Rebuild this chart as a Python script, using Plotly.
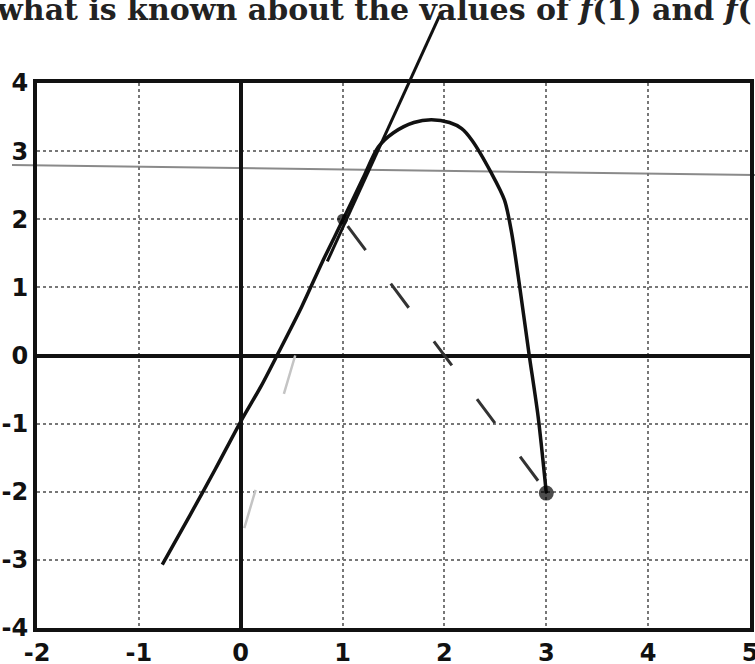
import plotly.graph_objects as go

# ---- data ----
x_ticks = [-2, -1, 0, 1, 2, 3, 4, 5]
x_tick_labels = ["-2", "-1", "0", "1", "2", "3", "4", "5"]
y_ticks = [-4, -3, -2, -1, 0, 1, 2, 3, 4]
y_tick_labels = ["-4", "-3", "-2", "-1", "0", "1", "2", "3", "4"]

curve_x = [-0.77, -0.5, -0.25, 0.0, 0.2, 0.37, 0.6, 0.8, 1.0, 1.2, 1.35, 1.5, 1.7,
           1.87, 2.05, 2.17, 2.27, 2.46, 2.59, 2.66, 2.74, 2.83, 2.92, 3.0]
curve_y = [-3.07, -2.35, -1.67, -0.97, -0.45, 0.04, 0.72, 1.37, 1.98, 2.6, 3.06, 3.27, 3.42,
           3.46, 3.42, 3.33, 3.16, 2.68, 2.28, 1.80, 1.0, 0.03, -0.9, -2.02]

tangent_x = [0.85, 1.95]
tangent_y = [1.38, 4.98]

secant_x = [1.05, 2.97]
secant_y = [1.9, -1.94]

faint_x = [0.535, 0.03]
faint_y = [0.0, -2.56]

point_x = [1.0, 3.0]
point_y = [2.0, -2.02]

title_text = "what is known about the values of <i>f</i>(1) and <i>f</i>("

# ---- figure ----
W, H = 755, 664
ML, MR, MT, MB = 37, 5, 0, 36
plot_h = H - MT - MB
plot_w = W - ML - MR
top_px = 83
ydom_top = (plot_h - top_px) / plot_h
y2_top = 4 + 8 * top_px / (plot_h - top_px)

fig = go.Figure()

fig.add_trace(go.Scatter(x=faint_x, y=faint_y, mode="lines",
                         line=dict(color="#c4c4c4", width=2.5, dash="40px,100px"),
                         hoverinfo="skip", xaxis="x", yaxis="y"))
fig.add_trace(go.Scatter(x=secant_x, y=secant_y, mode="lines",
                         line=dict(color="#333333", width=3, dash="30px,42px"),
                         hoverinfo="skip", xaxis="x", yaxis="y"))
fig.add_trace(go.Scatter(x=curve_x, y=curve_y, mode="lines",
                         line=dict(color="#111111", width=3.5, shape="spline", smoothing=0.8),
                         hoverinfo="skip", xaxis="x", yaxis="y"))
fig.add_trace(go.Scatter(x=point_x, y=point_y, mode="markers",
                         marker=dict(color="#000000", size=[11, 15], symbol="circle",
                                     line=dict(width=0)),
                         hoverinfo="skip", xaxis="x", yaxis="y"))
# tangent line extends above the plot frame -> drawn on a taller hidden subplot
fig.add_trace(go.Scatter(x=tangent_x, y=tangent_y, mode="lines",
                         line=dict(color="#111111", width=3),
                         hoverinfo="skip", xaxis="x2", yaxis="y2"))

tickfont = dict(family="DejaVu Sans", size=24, color="#111111", weight="bold")
axis_common = dict(
    showgrid=True, gridcolor="#777777", griddash="dot", gridwidth=2,
    zeroline=True, zerolinecolor="#111111", zerolinewidth=4,
    showline=True, linecolor="#111111", linewidth=4, mirror=True,
    ticks="", tickfont=tickfont, fixedrange=True, automargin=False,
    ticklabeloverflow="allow",
)

fig.update_layout(
    width=W, height=H,
    margin=dict(l=ML, r=MR, t=MT, b=MB, pad=0, autoexpand=False),
    paper_bgcolor="white", plot_bgcolor="rgba(0,0,0,0)",
    showlegend=False,
    xaxis=dict(range=[-2, 5], domain=[0, 1], anchor="y",
               tickvals=x_ticks, ticktext=x_tick_labels, ticklabelstandoff=0, **axis_common),
    yaxis=dict(range=[-4, 4], domain=[0, ydom_top], anchor="x",
               tickvals=y_ticks, ticktext=y_tick_labels, ticklabelstandoff=0, **axis_common),
    xaxis2=dict(range=[-2, 5], domain=[0, 1], anchor="y2", visible=False,
                fixedrange=True, automargin=False),
    yaxis2=dict(range=[-4, y2_top], domain=[0, 1], anchor="x2", visible=False,
                fixedrange=True, automargin=False),
    shapes=[dict(type="line", xref="paper", yref="paper",
                 x0=(12 - ML) / plot_w, x1=1.01,
                 y0=(plot_h - 165) / plot_h, y1=(plot_h - 175) / plot_h,
                 line=dict(color="#8a8a8a", width=2), layer="below")],
    annotations=[dict(text=title_text, xref="paper", yref="paper",
                      x=(-6 - ML) / plot_w, xanchor="left",
                      y=(plot_h + 10) / plot_h, yanchor="top",
                      showarrow=False,
                      font=dict(family="DejaVu Serif", size=30, color="#222222", weight="bold"))],
)

fig.write_html("out.html",
               config={"displayModeBar": False, "staticPlot": True},
               post_script="document.body.style.margin='0px';document.body.style.overflow='hidden';")
